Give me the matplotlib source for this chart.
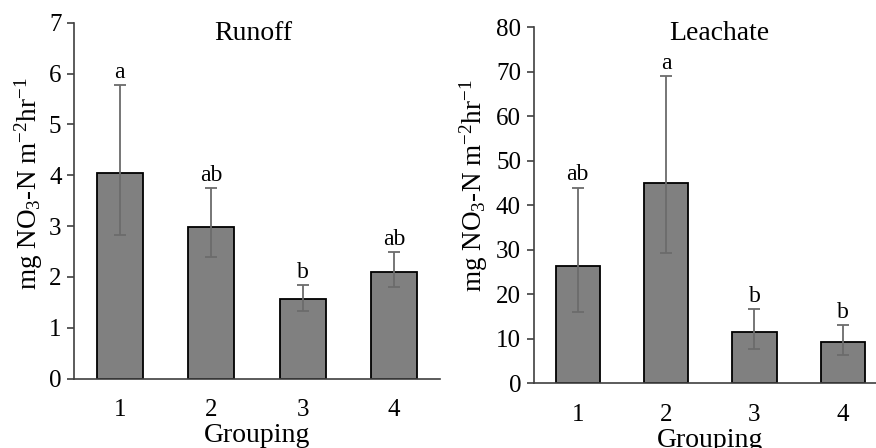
import numpy as np
import matplotlib
matplotlib.use("Agg")
import matplotlib.pyplot as plt

plt.rcParams['font.family'] = ['Liberation Serif', 'DejaVu Serif']
plt.rcParams['mathtext.fontset'] = 'custom'
plt.rcParams['mathtext.rm'] = 'Liberation Serif'
plt.rcParams['mathtext.it'] = 'Liberation Serif:italic'

groups = [1, 2, 3, 4]

# Runoff
runoff_mean = [4.05, 2.99, 1.565, 2.10]
runoff_hi = [5.78, 3.74, 1.84, 2.48]
runoff_lo = [2.82, 2.40, 1.335, 1.795]
runoff_letters = ["a", "ab", "b", "ab"]

# Leachate
leach_mean = [26.4, 44.9, 11.46, 9.2]
leach_hi = [44.0, 69.0, 16.7, 13.0]
leach_lo = [15.95, 29.2, 7.7, 6.36]
leach_letters = ["ab", "a", "b", "b"]

ylab = r'mg NO$_3$-N m$^{-2}$hr$^{-1}$'

fig = plt.figure(figsize=(8.76, 4.48), dpi=100)
ax1 = fig.add_axes([74/876, 1-378.5/448, (440-74)/876, (378.5-22.7)/448])
ax2 = fig.add_axes([533.5/876, 1-383.3/448, (887-533.5)/876, (383.3-27.3)/448])


def panel(ax, mean, lo, hi, letters, title, ymax, step, title_xy, ylab_xy):
    mean = np.array(mean)
    yerr = [mean - np.array(lo), np.array(hi) - mean]
    ax.bar(groups, mean, width=0.5, color='#808080', edgecolor='black', linewidth=1.3, zorder=2)
    ax.errorbar(groups, mean, yerr=yerr, fmt='none', ecolor='#6b6b6b', elinewidth=1.3,
                capsize=4.5, capthick=1.3, zorder=3)
    for g, h, t in zip(groups, hi, letters):
        ax.annotate(t, (g, h), xytext=(0, 1.5), textcoords='offset points',
                    ha='center', va='bottom', fontsize=17)
    ax.set_xlim(0.5, 4.5)
    ax.set_ylim(0, ymax)
    ax.set_yticks(np.arange(0, ymax + step / 2, step))
    ax.set_xticks(groups)
    ax.tick_params(axis='y', labelsize=18, length=5, width=1.2, color='#404040', pad=4)
    ax.tick_params(axis='x', labelsize=18, length=0, pad=15)
    for s in ['top', 'right']:
        ax.spines[s].set_visible(False)
    for s in ['left', 'bottom']:
        ax.spines[s].set_color('#404040')
        ax.spines[s].set_linewidth(1.2)
    ax.set_xlabel('Grouping', fontsize=20, labelpad=1.5)
    ax.set_ylabel(ylab, fontsize=19.5)
    ax.yaxis.set_label_coords(*ylab_xy)
    ax.text(title_xy[0], title_xy[1], title, transform=ax.transAxes,
            ha='center', va='baseline', fontsize=20)


panel(ax1, runoff_mean, runoff_lo, runoff_hi, runoff_letters, 'Runoff', 7, 1,
      (0.489, 0.9514), (-0.079, 0.547))
panel(ax2, leach_mean, leach_lo, leach_hi, leach_letters, 'Leachate', 80, 10,
      (0.525, 0.964), (-0.122, 0.554))

fig.savefig('out.png', dpi=100)
